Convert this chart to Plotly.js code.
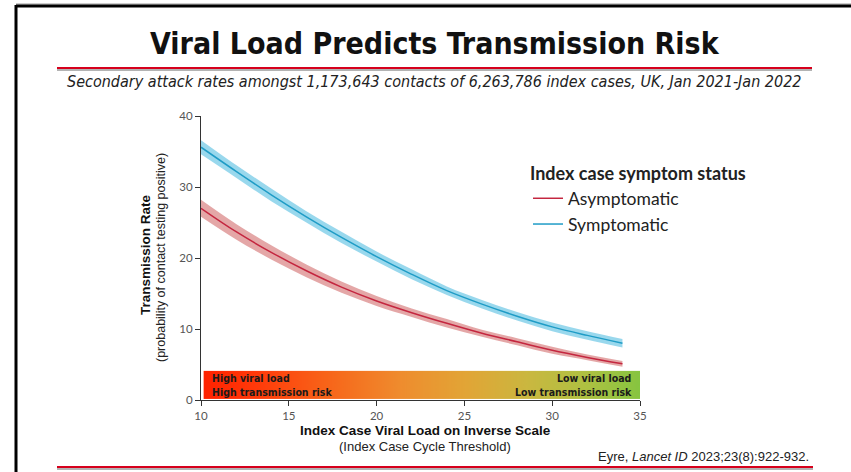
<!DOCTYPE html>
<html>
<head>
<meta charset="utf-8">
<script src="https://cdn.plot.ly/plotly-3.0.1.min.js"></script>
<style>
html,body{margin:0;padding:0;background:#fff;}
#chart{width:851px;height:472px;}
</style>
</head>
<body>
<div id="chart"></div>
<script>
// ---- Data ----
var ct = [10, 12, 14, 16, 18, 20, 22, 24, 26, 28, 30, 32, 34];
var sympRate  = [35.6, 32.2, 28.9, 25.8, 22.9, 20.2, 17.7, 15.4, 13.5, 11.8, 10.3, 9.1, 8.0];
var sympUpper = [36.6, 33.1, 29.8, 26.6, 23.7, 20.9, 18.4, 16.0, 14.1, 12.4, 10.9, 9.7, 8.6];
var sympLower = [34.6, 31.3, 28.0, 25.0, 22.1, 19.5, 17.0, 14.8, 12.9, 11.2, 9.7, 8.5, 7.4];
var asymRate  = [27.0, 23.7, 20.8, 18.2, 15.9, 13.95, 12.3, 10.8, 9.4, 8.2, 7.0, 6.0, 5.1];
var asymUpper = [28.2, 24.8, 21.8, 19.1, 16.7, 14.65, 12.9, 11.4, 9.9, 8.7, 7.5, 6.4, 5.5];
var asymLower = [25.8, 22.6, 19.8, 17.3, 15.1, 13.25, 11.7, 10.2, 8.9, 7.7, 6.5, 5.6, 4.7];
var seriesNames = ["Asymptomatic", "Symptomatic"];
var xTicks = [10, 15, 20, 25, 30, 35];
var yTicks = [0, 10, 20, 30, 40];

// ---- Styling ----
var ASYM_LINE = "#c4263f", ASYM_BAND = "rgba(205,95,95,0.55)";
var SYMP_LINE = "#1f9cc6", SYMP_BAND = "rgba(85,190,225,0.6)";

// plot area in pixels
var L = 201, R = 640, T = 116, B = 400;
function px(x){ return (x - L) / (R - L); }
function py(y){ return (B - y) / (B - T); }

function bandPair(lower, upper, color){
  return [
    {x: ct, y: lower, type: "scatter", mode: "lines", line: {width: 0, shape: "spline"},
     hoverinfo: "skip", showlegend: false},
    {x: ct, y: upper, type: "scatter", mode: "lines", fill: "tonexty", fillcolor: color,
     line: {width: 0, shape: "spline"}, hoverinfo: "skip", showlegend: false}
  ];
}

var traces = bandPair(asymLower, asymUpper, ASYM_BAND)
  .concat(bandPair(sympLower, sympUpper, SYMP_BAND))
  .concat([
    {x: ct, y: asymRate, type: "scatter", mode: "lines", name: seriesNames[0],
     line: {color: ASYM_LINE, width: 1.5, shape: "spline"}},
    {x: ct, y: sympRate, type: "scatter", mode: "lines", name: seriesNames[1],
     line: {color: SYMP_LINE, width: 1.5, shape: "spline"}}
  ]);

// gradient image for the viral-load bar
var cv = document.createElement("canvas");
cv.width = 440; cv.height = 28;
var cx = cv.getContext("2d");
var g = cx.createLinearGradient(0, 0, 440, 0);
g.addColorStop(0.00, "#ff2200");
g.addColorStop(0.12, "#ff3a0a");
g.addColorStop(0.28, "#f86419");
g.addColorStop(0.45, "#ef8c2e");
g.addColorStop(0.60, "#e2a536");
g.addColorStop(0.75, "#c9b840");
g.addColorStop(0.88, "#aec142");
g.addColorStop(1.00, "#86c540");
cx.fillStyle = g; cx.fillRect(0, 0, 440, 28);
var gradURL = cv.toDataURL();

var NARROW = "'DejaVu Sans Condensed', 'Liberation Sans Narrow', Arial, sans-serif";
var SANS = "'Liberation Sans', Arial, sans-serif";
var LATO = "Lato, 'Open Sans', sans-serif";

var shapes = [
  // frame
  {type: "line", xref: "paper", yref: "paper", x0: px(16), x1: px(851), y0: py(4), y1: py(4), line: {color: "#999", width: 1}},
  {type: "line", xref: "paper", yref: "paper", x0: px(16), x1: px(851), y0: py(6), y1: py(6), line: {color: "#000", width: 3}},
  {type: "line", xref: "paper", yref: "paper", x0: px(16), x1: px(16), y0: py(5), y1: py(472), line: {color: "#000", width: 3}},
  // title rule
  {type: "line", xref: "paper", yref: "paper", x0: px(57), x1: px(812), y0: py(70), y1: py(70), line: {color: "#9a9a9a", width: 1.5}},
  {type: "line", xref: "paper", yref: "paper", x0: px(57), x1: px(812), y0: py(68), y1: py(68), line: {color: "#d6001c", width: 2}},
  // bottom rule
  {type: "line", xref: "paper", yref: "paper", x0: px(57), x1: px(813), y0: py(469), y1: py(469), line: {color: "#9a9a9a", width: 1.5}},
  {type: "line", xref: "paper", yref: "paper", x0: px(57), x1: px(813), y0: py(467), y1: py(467), line: {color: "#d6001c", width: 2}}
];

var annotations = [
  {xref: "paper", yref: "paper", x: px(435), y: py(44), text: "<b>Viral Load Predicts Transmission Risk</b>",
   showarrow: false, xanchor: "center", yanchor: "middle", font: {family: NARROW, size: 30, color: "#111"}},
  {xref: "paper", yref: "paper", x: px(434), y: py(82), text: "<i>Secondary attack rates amongst 1,173,643 contacts of 6,263,786 index cases, UK, Jan 2021-Jan 2022</i>",
   showarrow: false, xanchor: "center", yanchor: "middle", font: {family: NARROW, size: 16, color: "#222"}},
  {xref: "paper", yref: "paper", x: px(811), y: py(456), text: "Eyre, <i>Lancet ID</i> 2023;23(8):922-932.",
   showarrow: false, xanchor: "right", yanchor: "middle", font: {family: SANS, size: 13, color: "#222"}},
  // axis titles
  {xref: "paper", yref: "paper", x: px(145), y: py(255), text: "<b>Transmission Rate</b>", textangle: -90,
   showarrow: false, xanchor: "center", yanchor: "middle", font: {family: SANS, size: 13.5, color: "#111"}},
  {xref: "paper", yref: "paper", x: px(161), y: py(258), text: "(probability of contact testing positive)", textangle: -90,
   showarrow: false, xanchor: "center", yanchor: "middle", font: {family: SANS, size: 12.5, color: "#222"}},
  {xref: "paper", yref: "paper", x: px(425), y: py(430), text: "<b>Index Case Viral Load on Inverse Scale</b>",
   showarrow: false, xanchor: "center", yanchor: "middle", font: {family: SANS, size: 13.5, color: "#111"}},
  {xref: "paper", yref: "paper", x: px(425), y: py(446), text: "(Index Case Cycle Threshold)",
   showarrow: false, xanchor: "center", yanchor: "middle", font: {family: SANS, size: 13, color: "#222"}},
  // bar labels
  {xref: "paper", yref: "paper", x: px(210), y: py(385), text: "<b>High viral load<br>High transmission risk</b>", align: "left",
   showarrow: false, xanchor: "left", yanchor: "middle", font: {family: NARROW, size: 10.5, color: "#1a1a1a"}},
  {xref: "paper", yref: "paper", x: px(634), y: py(385), text: "<b>Low viral load<br>Low transmission risk</b>", align: "right",
   showarrow: false, xanchor: "right", yanchor: "middle", font: {family: NARROW, size: 10.5, color: "#1a1a1a"}}
];

var layout = {
  width: 851, height: 472,
  margin: {l: L, r: 851 - R, t: T, b: 472 - B, pad: 0},
  paper_bgcolor: "#fff", plot_bgcolor: "#fff",
  showlegend: true,
  legend: {
    x: px(528), y: py(157), xanchor: "left", yanchor: "top",
    bgcolor: "rgba(0,0,0,0)", tracegroupgap: 0, traceorder: "normal",
    font: {family: LATO, size: 17.5, color: "#222"},
    title: {text: "<b>Index case symptom status</b>", font: {family: LATO, size: 18, color: "#222"}},
    itemwidth: 30
  },
  xaxis: {
    range: [10, 35], tickvals: xTicks, ticks: "outside", ticklen: 5, tickcolor: "#333",
    showline: true, linecolor: "#333", linewidth: 1, showgrid: false, zeroline: false,
    tickfont: {family: LATO, size: 11.5, color: "#555"}, fixedrange: true
  },
  yaxis: {
    range: [0, 40], tickvals: yTicks, ticks: "outside", ticklen: 5, tickcolor: "#333",
    showline: true, linecolor: "#333", linewidth: 1, showgrid: false, zeroline: false,
    tickfont: {family: LATO, size: 11.5, color: "#555"}, fixedrange: true
  },
  images: [{
    source: gradURL, xref: "x", yref: "y", x: 10.15, y: 4.1, sizex: 24.85, sizey: 3.95,
    sizing: "stretch", xanchor: "left", yanchor: "top", layer: "below"
  }],
  shapes: shapes,
  annotations: annotations
};

Plotly.newPlot("chart", traces, layout, {displayModeBar: false, staticPlot: true});
</script>
</body>
</html>
